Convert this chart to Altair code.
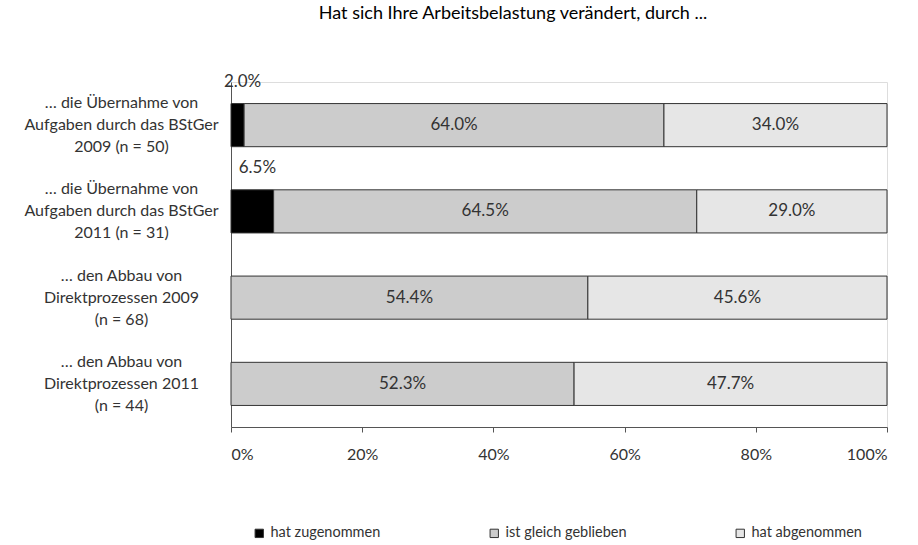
import altair as alt
import pandas as pd

FONT = "Lato"
TEXT = "#333333"

categories = [
    "… die Übernahme von\nAufgaben durch das BStGer\n2009 (n = 50)",
    "… die Übernahme von\nAufgaben durch das BStGer\n2011 (n = 31)",
    "… den Abbau von\nDirektprozessen 2009\n(n = 68)",
    "… den Abbau von\nDirektprozessen 2011\n(n = 44)",
]
series = ["hat zugenommen", "ist gleich geblieben", "hat abgenommen"]
zugenommen = [2.0, 6.5, 0.0, 0.0]
gleich = [64.0, 64.5, 54.4, 52.3]
abgenommen = [34.0, 29.0, 45.6, 47.7]
colors = ["#000000", "#cccccc", "#e6e6e6"]
x_ticks = [0, 20, 40, 60, 80, 100]

# long table with stacked segment bounds
rows = []
for i, cat in enumerate(categories):
    start = 0.0
    for s, vals in zip(series, [zugenommen, gleich, abgenommen]):
        v = vals[i]
        if v > 0:
            rows.append(dict(cat=cat, series=s, value=v, start=start,
                             end=start + v, mid=start + v / 2,
                             label=f"{v:.1f}%"))
        start += v
df = pd.DataFrame(rows)

y_enc = alt.Y(
    "cat:N",
    sort=categories,
    title=None,
    scale=alt.Scale(paddingInner=0.5, paddingOuter=0.25),
    axis=alt.Axis(
        labelExpr="split(datum.label, '\\n')",
        labelAlign="center",
        labelBaseline="middle",
        labelPadding=110,
        labelOffset=-22,
        labelFont=FONT,
        labelFontSize=16,
        labelLineHeight=22,
        labelColor=TEXT,
        labelLimit=400,
        ticks=False,
        domainColor="#555555",
        grid=False,
    ),
)

x_scale = alt.Scale(domain=[0, 100], nice=False)

bars = alt.Chart(df).mark_bar(stroke="#333333", strokeWidth=1).encode(
    x=alt.X(
        "start:Q",
        scale=x_scale,
        title=None,
        axis=alt.Axis(
            values=x_ticks,
            labelExpr="datum.value + '%'",
            labelFont=FONT,
            labelFontSize=16,
            labelColor=TEXT,
            labelPadding=14,
            tickSize=5,
            tickColor="#555555",
            domainColor="#555555",
            grid=False,
        ),
    ),
    x2="end:Q",
    y=y_enc,
    color=alt.Color(
        "series:N",
        scale=alt.Scale(domain=series, range=colors),
        legend=alt.Legend(
            title=None,
            orient="none",
            direction="horizontal",
            legendX=21,
            legendY=444,
            columnPadding=106,
            symbolType="square",
            symbolSize=70,
            symbolStrokeColor="#333333",
            symbolStrokeWidth=1,
            labelFont=FONT,
            labelFontSize=14.5,
            labelColor=TEXT,
            labelLimit=300,
        ),
    ),
)

inside = alt.Chart(df).transform_filter("datum.value >= 10").mark_text(
    font=FONT, fontSize=17, color=TEXT
).encode(
    x=alt.X("mid:Q", scale=x_scale),
    y=alt.Y("cat:N", sort=categories),
    text="label:N",
)

above = alt.Chart(df).transform_filter("datum.value < 10").mark_text(
    font=FONT, fontSize=17, color=TEXT, dy=-43, dx=5
).encode(
    x=alt.X("mid:Q", scale=x_scale),
    y=alt.Y("cat:N", sort=categories),
    text="label:N",
)

chart = (
    alt.layer(bars, inside, above)
    .properties(
        width=656,
        height=345,
        autosize=alt.AutoSizeParams(type="none"),
        padding={"left": 231, "top": 82, "right": 31, "bottom": 118},
        title=alt.TitleParams(
            "Hat sich Ihre Arbeitsbelastung verändert, durch ...",
            font=FONT,
            fontSize=18,
            fontWeight="normal",
            color="#000000",
            anchor="middle",
            frame="group",
            dx=-46,
            offset=50,
        ),
    )
    .configure_view(stroke=None)
    .configure(background="white")
)

chart.save("out.html", embed_options={"renderer": "svg", "actions": False})
